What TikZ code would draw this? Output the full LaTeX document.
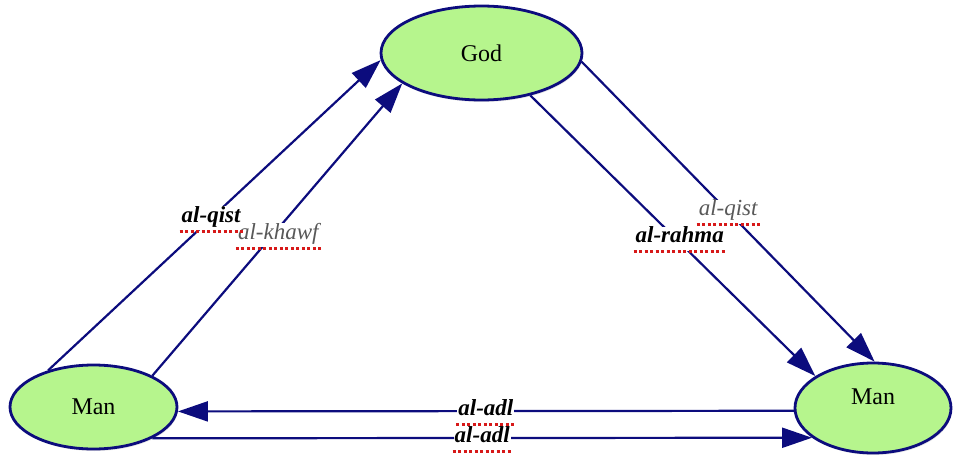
\documentclass[tikz,border=0pt]{standalone}
\usepackage{fontspec}
\setmainfont{Liberation Serif}
\usetikzlibrary{arrows.meta,shapes.geometric,shadows}

\definecolor{navy}{RGB}{12,12,125}
\definecolor{leaf}{RGB}{182,245,141}
\definecolor{spell}{RGB}{215,25,25}

\begin{document}
\begin{tikzpicture}[x=1pt, y=-1pt,
    being/.style={ellipse, draw=navy, line width=2.8pt, fill=leaf, inner sep=0pt,
      font=\fontsize{24}{28}\selectfont,
      drop shadow={shadow xshift=1pt, shadow yshift=-2pt, opacity=0.2}},
    link/.style={navy, line width=2.2pt, -{Triangle[length=30pt, width=20pt]}},
    term/.style={fill=white, text=black, inner sep=1pt, text height=15pt, text depth=7pt,
      font=\fontsize{23}{27}\selectfont\bfseries\itshape},
    softterm/.style={term, text=black!65, font=\fontsize{23}{27}\selectfont\itshape},
    spellmark/.style={spell, line width=3pt, dash pattern=on 3pt off 2.5pt}]
    \useasboundingbox (0,0) rectangle (954,455);

    % Nodes
    \node[being, minimum width=201pt, minimum height=94pt] (god) at (481.5,53) {God};
    \node[being, minimum width=167pt, minimum height=84pt] (manL) at (93.5,407) {Man};
    \node[being, minimum width=156pt, minimum height=90pt, text depth=22pt] (manR) at (873,408) {Man};

    % Edges with labels
    \draw[link] (manL.141) -- node[term, pos=0.49] (qistA) {al-qist} (god.184);
    \draw[link] (manL.28) -- node[softterm, pos=0.48, xshift=6pt] (khawf) {al-khawf} (god.201);
    \draw[link] (god.355) -- node[softterm, pos=0.5] (qistB) {al-qist} (manR.88);
    \draw[link] (god.319) -- node[term, pos=0.51, xshift=4pt] (rahma) {al-rahma} (manR.151);
    \draw[link] (manR.182) -- node[term] (adlA) {al-adl} (manL.357);
    \draw[link] (manL.332) -- node[term] (adlB) {al-adl} (manR.206);

    % Spelling marks
    \foreach \w in {qistA, khawf, qistB, rahma, adlA, adlB}
      \draw[spellmark] (\w.south west) -- (\w.south east);
\end{tikzpicture}
\end{document}
